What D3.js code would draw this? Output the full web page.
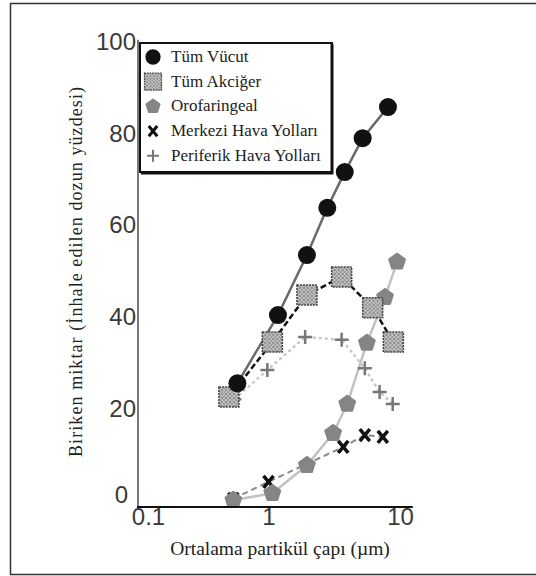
<!DOCTYPE html>
<html>
<head>
<meta charset="utf-8">
<script src="https://cdn.jsdelivr.net/npm/d3@7"></script>
<style>
  body { margin: 0; background: #fff; }
  svg { display: block; }
  .legendText, .axisTitle { font-family: "Liberation Serif", "DejaVu Serif", serif; fill: #222; }
  .tick text { font-family: "Liberation Sans", Arial, sans-serif; fill: #3a3a3a; }
</style>
</head>
<body>
<div id="chart"></div>
<script>
// Data (x = particle diameter in µm, y = % of inhaled dose)
var vucutX = [0.58, 1.18, 1.96, 2.8, 3.8, 5.2, 8.1];
var vucutY = [25.5, 40.4, 53.5, 63.8, 71.6, 79, 85.8];

var akcigerX = [0.5, 1.07, 1.96, 3.6, 6.2, 8.9];
var akcigerY = [22.5, 34.5, 44.8, 48.7, 42, 34.5];

var oroX = [0.54, 1.07, 1.96, 3.1, 3.97, 5.6, 7.7, 9.5];
var oroY = [0, 1.5, 7.6, 14.6, 21, 34.3, 44.3, 52];

var merkeziX = [0.54, 1.0, 3.7, 5.4, 7.4];
var merkeziY = [0.3, 4, 11.6, 14.2, 13.8];

var periferikX = [0.55, 0.98, 1.9, 3.6, 5.4, 7.0, 8.8];
var periferikY = [22, 28.4, 35.6, 35, 28.8, 23.6, 21];

var seriesNames = ["Tüm Vücut", "Tüm Akciğer", "Orofaringeal", "Merkezi Hava Yolları", "Periferik Hava Yolları"];
var xTicks = [0.1, 1, 10];
var yTicks = [0, 20, 40, 60, 80, 100];

var svgWidth = 536;
var svgHeight = 576;

var svg = d3.select("#chart")
  .append("svg")
  .attr("width", svgWidth)
  .attr("height", svgHeight);

// checkered fill for the lung squares
var defs = svg.append("defs");
var pat = defs.append("pattern")
  .attr("id", "checker")
  .attr("width", 4)
  .attr("height", 4)
  .attr("patternUnits", "userSpaceOnUse");
pat.append("rect").attr("width", 4).attr("height", 4).attr("fill", "#c4c4c4");
pat.append("rect").attr("width", 2).attr("height", 2).attr("fill", "#8a8a8a");
pat.append("rect").attr("x", 2).attr("y", 2).attr("width", 2).attr("height", 2).attr("fill", "#9a9a9a");

// outer frame
svg.append("rect")
  .attr("x", 10.5)
  .attr("y", 3.5)
  .attr("width", 560)
  .attr("height", 571)
  .attr("fill", "none")
  .attr("stroke", "#333")
  .attr("stroke-width", 1.5);

// scales
var xScale = d3.scaleLog()
  .domain([0.1, 10])
  .range([137, 400]);

var yScale = d3.scaleLinear()
  .domain([-1.5, 100])
  .range([507, 42]);

function pts(xs, ys) {
  return xs.map(function(x, i) { return { x: x, y: ys[i] }; });
}

var line = d3.line()
  .x(function(d) { return xScale(d.x); })
  .y(function(d) { return yScale(d.y); });

// marker drawers
function pentagon(r) {
  var p = d3.path();
  for (var i = 0; i < 5; i++) {
    var a = -Math.PI / 2 + i * 2 * Math.PI / 5;
    if (i === 0) p.moveTo(r * Math.cos(a), r * Math.sin(a));
    else p.lineTo(r * Math.cos(a), r * Math.sin(a));
  }
  p.closePath();
  return p.toString();
}

function drawMarker(g, type) {
  if (type === 0) {
    g.append("circle").attr("r", 9).attr("fill", "#111");
  } else if (type === 1) {
    g.append("rect")
      .attr("x", -10).attr("y", -10).attr("width", 20).attr("height", 20)
      .attr("fill", "url(#checker)")
      .attr("stroke", "#444")
      .attr("stroke-width", 1.5)
      .attr("stroke-dasharray", "2,1");
  } else if (type === 2) {
    g.append("path").attr("d", pentagon(8)).attr("fill", "#858585")
      .attr("stroke", "#858585").attr("stroke-width", 2.5).attr("stroke-linejoin", "round");
  } else if (type === 3) {
    g.append("path")
      .attr("d", "M-5,-6L5,6M5,-6L-5,6")
      .attr("fill", "none")
      .attr("stroke", "#111")
      .attr("stroke-width", 3.5);
  } else {
    g.append("path")
      .attr("d", "M-7,0H7M0,-7V7")
      .attr("fill", "none")
      .attr("stroke", "#777")
      .attr("stroke-width", 2.5);
  }
}

var series = [
  { data: pts(periferikX, periferikY), type: 4, stroke: "#c8c8c8", width: 2.5, dash: "3,3" },
  { data: pts(merkeziX, merkeziY), type: 3, stroke: "#8a8a8a", width: 2, dash: "6,4" },
  { data: pts(oroX, oroY), type: 2, stroke: "#c2c2c2", width: 2.5, dash: null },
  { data: pts(akcigerX, akcigerY), type: 1, stroke: "#111", width: 2.5, dash: "6,3" },
  { data: pts(vucutX, vucutY), type: 0, stroke: "#6a6a6a", width: 2.5, dash: null }
];

var chartGroup = svg.append("g");

// lines first, markers on top
series.forEach(function(s) {
  chartGroup.append("path")
    .datum(s.data)
    .attr("fill", "none")
    .attr("stroke", s.stroke)
    .attr("stroke-width", s.width)
    .attr("stroke-dasharray", s.dash)
    .attr("d", line);
});

series.forEach(function(s) {
  chartGroup.selectAll(null)
    .data(s.data)
    .enter()
    .append("g")
    .attr("transform", function(d) { return "translate(" + xScale(d.x) + "," + yScale(d.y) + ")"; })
    .each(function() { drawMarker(d3.select(this), s.type); });
});

// Y axis
var leftAxis = d3.axisLeft(yScale)
  .tickValues(yTicks)
  .tickSize(0)
  .tickPadding(2);

var yAxis = svg.append("g")
  .attr("transform", "translate(138,0)")
  .call(leftAxis);
yAxis.select(".domain").remove();
yAxis.selectAll("text")
  .attr("font-size", 24)
  .attr("dx", function(d) { return d === 0 ? -8 : 0; })
  .attr("dy", function(d) { return d === 0 ? "0.1em" : "0.32em"; });

svg.append("line")
  .attr("x1", 138).attr("x2", 138)
  .attr("y1", yScale(100.5)).attr("y2", yScale(-1.5))
  .attr("stroke", "#777")
  .attr("stroke-width", 2);

// X axis
var bottomAxis = d3.axisBottom(xScale)
  .tickValues(xTicks)
  .tickFormat(function(d) { return d; })
  .tickSize(0)
  .tickPadding(1);

var xAxis = svg.append("g")
  .attr("transform", "translate(0,507)")
  .call(bottomAxis);
xAxis.select(".domain").remove();
xAxis.selectAll("text")
  .attr("font-size", 24)
  .attr("dx", function(d) { return d === 0.1 ? 11 : 0; });

svg.append("line")
  .attr("x1", xScale(0.1)).attr("x2", xScale(12.5))
  .attr("y1", 507).attr("y2", 507)
  .attr("stroke", "#111")
  .attr("stroke-width", 2);

// axis titles
svg.append("text")
  .attr("class", "axisTitle")
  .attr("x", 280)
  .attr("y", 555)
  .attr("text-anchor", "middle")
  .attr("font-size", 19.5)
  .text("Ortalama partikül çapı (µm)");

svg.append("text")
  .attr("class", "axisTitle")
  .attr("transform", "translate(82,272) rotate(-90)")
  .attr("text-anchor", "middle")
  .attr("font-size", 18)
  .attr("textLength", 370)
  .attr("lengthAdjust", "spacing")
  .text("Biriken miktar (İnhale edilen dozun yüzdesi)");

// legend
var legend = svg.append("g");
legend.append("rect")
  .attr("x", 140)
  .attr("y", 43)
  .attr("width", 192)
  .attr("height", 129)
  .attr("fill", "#fff")
  .attr("stroke", "#111")
  .attr("stroke-width", 2);
legend.append("path")
  .attr("d", "M332,44V173H141")
  .attr("fill", "none")
  .attr("stroke", "#111")
  .attr("stroke-width", 3);

seriesNames.forEach(function(name, i) {
  var yy = 57 + i * 24.7;
  var item = legend.append("g").attr("transform", "translate(153," + yy + ") scale(0.85)");
  drawMarker(item, i);
  legend.append("text")
    .attr("class", "legendText")
    .attr("x", 171)
    .attr("y", yy + 5)
    .attr("font-size", 17)
    .text(name);
});
</script>
</body>
</html>
